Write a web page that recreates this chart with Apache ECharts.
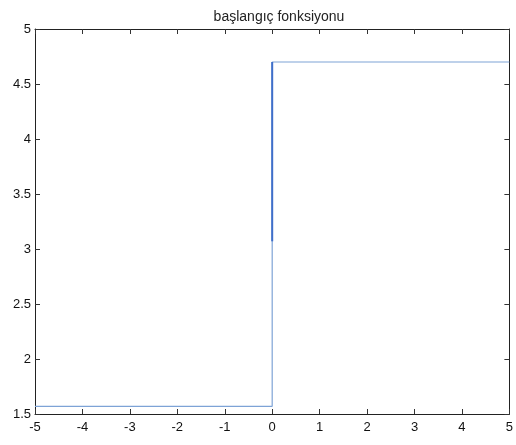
<!DOCTYPE html>
<html>
<head>
<meta charset="utf-8">
<script src="https://cdn.jsdelivr.net/npm/echarts@6/dist/echarts.min.js"></script>
<style>
  html, body { margin: 0; padding: 0; background: #fff; }
  #chart { width: 516px; height: 445px; }
</style>
</head>
<body>
<div id="chart"></div>
<script>
var titleText = 'başlangıç fonksiyonu';
// step function: low value left of 0, high value right of 0
var stepX = [-5, 0, 0, 5];
var stepY = [1.57, 1.57, 4.7, 4.7];
// darker overlapping part of the jump
var jumpX = [0, 0];
var jumpY = [3.07, 4.7];

var chart = echarts.init(document.getElementById('chart'));

function pairs(xs, ys) {
	return xs.map(function (x, i) { return [x, ys[i]]; });
}

var tickStyle = { show: true, inside: true, length: 5, lineStyle: { color: '#333', width: 1 } };
var lineStyle = { show: true, onZero: false, lineStyle: { color: '#222', width: 1 } };
var labelStyle = { color: '#111', fontSize: 13, fontFamily: 'Liberation Sans, Arial, sans-serif' };

var option = {
	backgroundColor: '#fff',
	animation: false,
	title: {
		text: titleText,
		left: 274,
		textAlign: 'center',
		top: 5,
		textStyle: {
			color: '#222',
			fontSize: 14,
			fontWeight: 'normal',
			fontFamily: 'Liberation Sans, Arial, sans-serif'
		}
	},
	grid: {
		left: 35,
		right: 3,
		top: 29,
		bottom: 31
	},
	xAxis: [{
		type: 'value',
		min: -5,
		max: 5,
		interval: 1,
		position: 'bottom',
		axisLine: lineStyle,
		axisTick: tickStyle,
		axisLabel: Object.assign({ margin: 7 }, labelStyle),
		splitLine: { show: false }
	}, {
		type: 'value',
		min: -5,
		max: 5,
		interval: 1,
		position: 'top',
		axisLine: lineStyle,
		axisTick: tickStyle,
		axisLabel: { show: false },
		splitLine: { show: false }
	}],
	yAxis: [{
		type: 'value',
		min: 1.5,
		max: 5,
		interval: 0.5,
		position: 'left',
		axisLine: lineStyle,
		axisTick: tickStyle,
		axisLabel: Object.assign({ margin: 4 }, labelStyle),
		splitLine: { show: false }
	}, {
		type: 'value',
		min: 1.5,
		max: 5,
		interval: 0.5,
		position: 'right',
		axisLine: lineStyle,
		axisTick: tickStyle,
		axisLabel: { show: false },
		splitLine: { show: false }
	}],
	series: [{
		type: 'line',
		data: pairs(stepX, stepY),
		showSymbol: false,
		lineStyle: { color: '#7ea3d6', width: 1.2 }
	}, {
		type: 'line',
		data: pairs(jumpX, jumpY),
		showSymbol: false,
		lineStyle: { color: '#3f6fca', width: 2 }
	}]
};

chart.setOption(option);
</script>
</body>
</html>
